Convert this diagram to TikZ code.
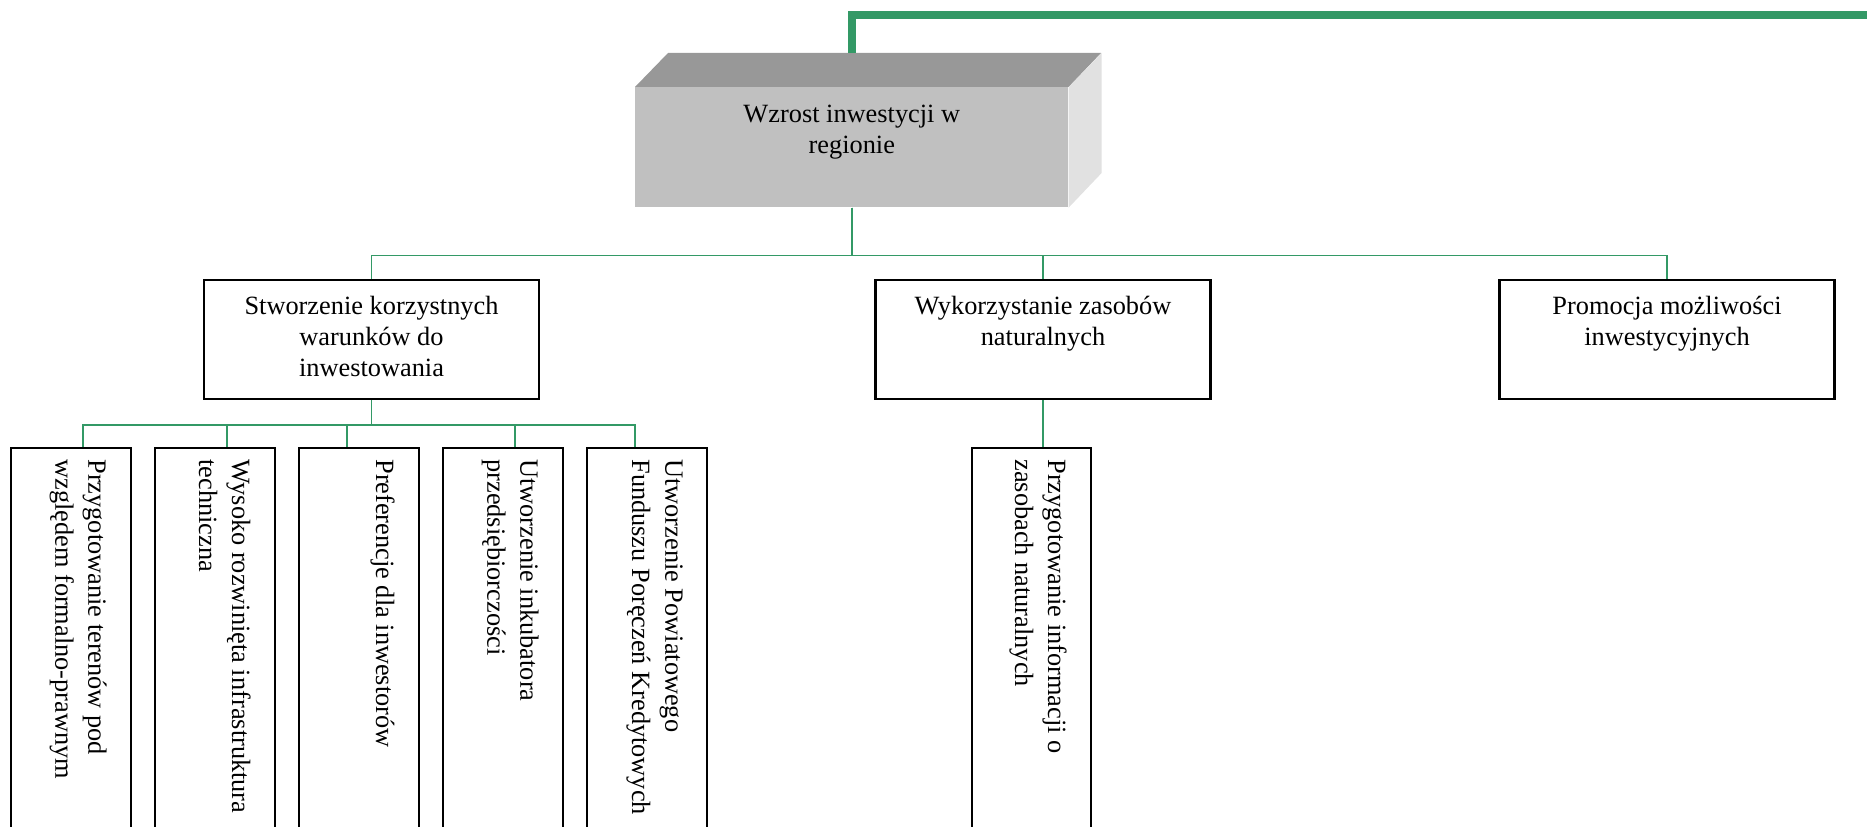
\documentclass[tikz,border=0pt]{standalone}
\usepackage{fontspec}
\setmainfont{Liberation Serif}
\usepackage{tikz}
\definecolor{linkgreen}{RGB}{51,153,102}
\definecolor{frontgray}{RGB}{192,192,192}
\definecolor{topgray}{RGB}{152,152,152}
\definecolor{sidegray}{RGB}{225,225,225}

\begin{document}
\begin{tikzpicture}[x=0.02cm,y=-0.02cm,
  trunk/.style={draw=linkgreen,line width=4.3pt},
  link/.style={draw=linkgreen,line width=0.8pt},
  goal/.style={fill=frontgray,inner sep=0pt,minimum width=8.66cm,minimum height=2.4cm,anchor=north west},
  aim/.style={draw=black,line width=1.2pt,inner sep=0pt,minimum width=6.7cm,minimum height=2.38cm,anchor=north},
  task/.style={draw=black,line width=1.2pt,inner sep=0pt,minimum width=2.4cm,minimum height=8cm,anchor=north},
  htext/.style={align=center,inner sep=0pt,anchor=north,font=\fontsize{15pt}{17.6pt}\selectfont},
  vtext/.style={align=left,inner sep=0pt,anchor=north west,rotate=-90,font=\fontsize{15pt}{18.8pt}\selectfont}]
\useasboundingbox (0,0) rectangle (1867,827);
\clip (0,0) rectangle (1867,827);

\node[goal] (wzrost) at (635,87) {};
\fill[topgray] (wzrost.north west) -- ++(33,-34) -- ++(433,0) -- (wzrost.north east) -- cycle;
\fill[sidegray] (wzrost.north east) -- ++(33,-34) -- ++(0,120) -- (wzrost.south east) -- cycle;
\node[htext] (twzrost) at ([yshift=-0.36cm]wzrost.north) {Wzrost inwestycji w\\regionie};
\coordinate (kraj) at (1880,15);
\draw[trunk] (wzrost.north) ++(0,-34) |- (kraj);

\node[aim] (wa) at (371.5,279) {};
\node[aim] (wb) at (1043,279) {};
\node[aim] (wc) at (1667,279) {};
\node[htext] (twa) at ([yshift=-0.34cm]wa.north) {Stworzenie korzystnych\\warunków do\\inwestowania};
\node[htext] (twb) at ([yshift=-0.34cm]wb.north) {Wykorzystanie zasobów\\naturalnych};
\node[htext] (twc) at ([yshift=-0.34cm]wc.north) {Promocja możliwości\\inwestycyjnych};
\foreach \n in {wa,wb,wc}
  \draw[link] (wzrost.south) -- ++(0,48) -| (\n.north);

\node[task] (p1) at (71,447) {};
\node[task] (p2) at (215,447) {};
\node[task] (p3) at (359,447) {};
\node[task] (p4) at (503,447) {};
\node[task] (p5) at (647,447) {};
\node[task,minimum width=2.38cm] (p6) at (1031.5,447) {};
\node[vtext] (t1) at ([xshift=-0.5cm,yshift=-0.24cm]p1.north east) {Przygotowanie terenów pod\\względem formalno-prawnym};
\node[vtext] (t2) at ([xshift=-0.5cm,yshift=-0.24cm]p2.north east) {Wysoko rozwinięta infrastruktura\\techniczna};
\node[vtext] (t3) at ([xshift=-0.5cm,yshift=-0.24cm]p3.north east) {Preferencje dla inwestorów};
\node[vtext] (t4) at ([xshift=-0.5cm,yshift=-0.24cm]p4.north east) {Utworzenie inkubatora\\przedsiębiorczości};
\node[vtext] (t5) at ([xshift=-0.5cm,yshift=-0.24cm]p5.north east) {Utworzenie Powiatowego\\Funduszu Poręczeń Kredytowych};
\node[vtext] (t6) at ([xshift=-0.5cm,yshift=-0.24cm]p6.north east) {Przygotowanie informacji o\\zasobach naturalnych};
\foreach \n/\d in {p1/12,p2/12,p3/-12,p4/12,p5/-12}
  \draw[link] (wa.south) -- ++(0,25) -| ([xshift=\d*0.02cm]\n.north);
\draw[link] (wb.south) -- (wb.south |- p6.north);
\end{tikzpicture}
\end{document}
